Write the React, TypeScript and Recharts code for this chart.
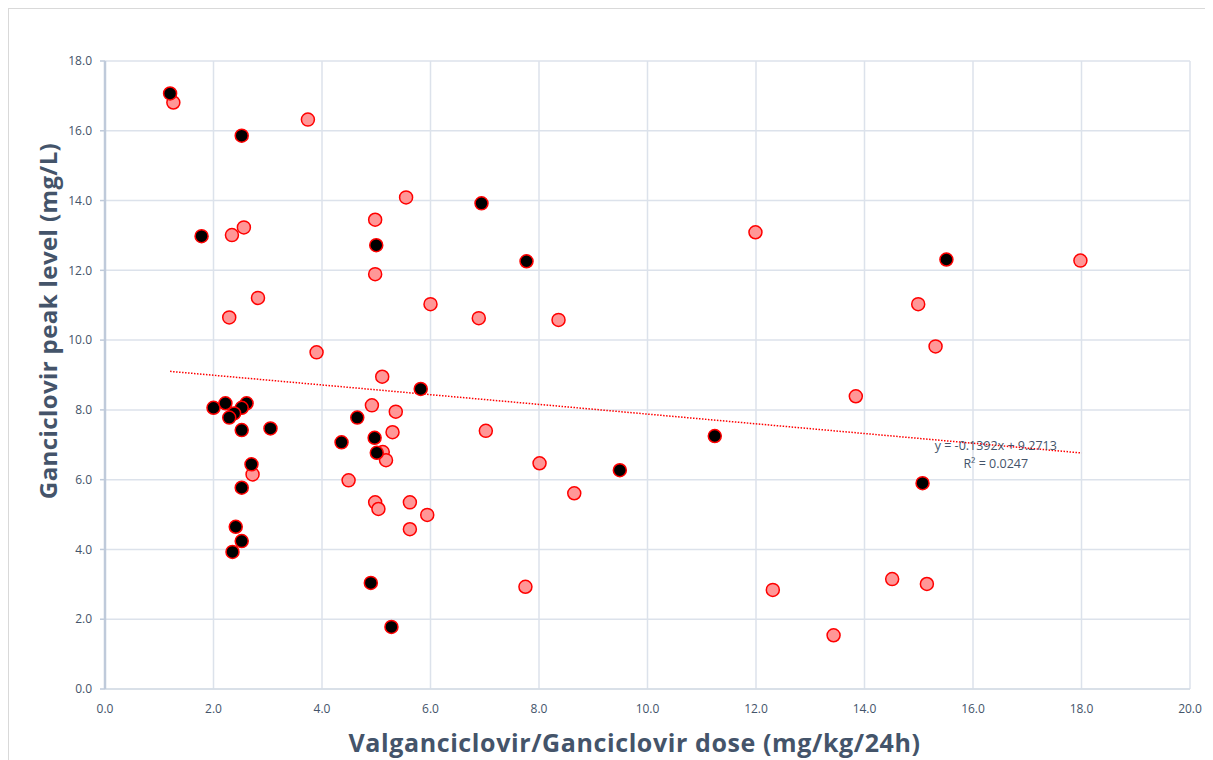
import React from 'react';
import { ScatterChart, Scatter, XAxis, YAxis, CartesianGrid, ReferenceDot } from 'recharts';

// Dose (mg/kg/24h), peak level (mg/L)
const darkPoints: [number, number][] = [
  [1.2, 17.07], [2.52, 15.86], [1.78, 12.98], [6.94, 13.92], [5.0, 12.72], [7.77, 12.26],
  [15.51, 12.31], [5.82, 8.6], [2.0, 8.06], [2.22, 8.19], [2.61, 8.19], [2.52, 8.06],
  [2.38, 7.9], [2.29, 7.78], [2.52, 7.42], [3.05, 7.47], [4.36, 7.07], [2.7, 6.44],
  [2.52, 5.77], [2.41, 4.65], [2.52, 4.24], [2.35, 3.93], [4.65, 7.78], [4.97, 7.2],
  [5.01, 6.77], [4.9, 3.04], [5.28, 1.78], [11.24, 7.25], [9.49, 6.27], [15.07, 5.9],
];

const lightPoints: [number, number][] = [
  [1.26, 16.81], [3.74, 16.32], [2.34, 13.01], [2.56, 13.23], [2.82, 11.21], [2.29, 10.65],
  [3.9, 9.65], [5.55, 14.09], [4.98, 13.45], [4.98, 11.89], [6.0, 11.03], [6.89, 10.63],
  [5.11, 8.95], [2.72, 6.15], [4.49, 5.98], [4.92, 8.13], [5.36, 7.95], [5.3, 7.36],
  [7.02, 7.4], [8.01, 6.47], [5.12, 6.79], [5.18, 6.56], [4.98, 5.35], [5.04, 5.16],
  [5.62, 5.35], [5.94, 4.99], [5.62, 4.58], [7.75, 2.93], [11.99, 13.09], [8.36, 10.58],
  [8.65, 5.61], [12.31, 2.84], [17.98, 12.28], [14.99, 11.03], [15.31, 9.82], [13.84, 8.39],
  [14.51, 3.15], [15.15, 3.01], [13.43, 1.54],
];

const trendSlope = -0.1392;
const trendIntercept = 9.2713;
const trendXRange = [1.2, 18.0];
const trendLabel = ['y = -0.1392x + 9.2713', 'R\u00B2 = 0.0247'];
const trendLabelAt = { x: 16.42, y: 6.99 };

const xTicks = [0, 2, 4, 6, 8, 10, 12, 14, 16, 18, 20];
const yTicks = [0, 2, 4, 6, 8, 10, 12, 14, 16, 18];

const xTitle = 'Valganciclovir/Ganciclovir dose (mg/kg/24h)';
const yTitle = 'Ganciclovir peak level (mg/L)';

const toObjs = (pts: [number, number][]) => pts.map(([x, y]) => ({ x, y }));
const trendData = trendXRange.map((x) => ({ x, y: trendSlope * x + trendIntercept }));

const FONT = '"Open Sans", "Liberation Sans", sans-serif';
const TEXT = '#44546A';

const makeDot = (fill: string) => (props: any) => (
  <circle cx={props.cx} cy={props.cy} r={6.5} fill={fill} stroke="#FF0000" strokeWidth={1.5} />
);

export default function App() {
  return (
    <div
      style={{
        width: 1205,
        height: 752,
        borderTop: '1px solid #D9D9D9',
        borderLeft: '1px solid #D9D9D9',
        background: '#fff',
        fontFamily: FONT,
      }}
    >
      <ScatterChart
        width={1204}
        height={751}
        margin={{ top: 52, right: 23, bottom: 41, left: 0 }}
      >
        <CartesianGrid stroke="#DCE2EB" strokeWidth={1.5} horizontalValues={yTicks} verticalValues={xTicks} />
        <XAxis
          type="number"
          dataKey="x"
          domain={[0, 20]}
          ticks={xTicks}
          allowDataOverflow
          tickFormatter={(v: number) => v.toFixed(1)}
          tick={{ fill: TEXT, fontSize: 12, fontFamily: FONT }}
          tickLine={false}
          tickSize={0}
          tickMargin={15}
          height={30}
          axisLine={{ stroke: '#D5DCE6', strokeWidth: 1.5 }}
          label={{
            content: (p: any) => {
              const vb = p.viewBox;
              return (
                <text
                  x={vb.x + vb.width / 2 - 13}
                  y={vb.y + 53}
                  textAnchor="middle"
                  dominantBaseline="central"
                  fill={TEXT}
                  fontSize={25}
                  letterSpacing={0.6}
                  fontWeight="bold"
                  fontFamily={FONT}
                >
                  {xTitle}
                </text>
              );
            },
          }}
        />
        <YAxis
          type="number"
          dataKey="y"
          domain={[0, 18]}
          ticks={yTicks}
          allowDataOverflow
          tickFormatter={(v: number) => v.toFixed(1)}
          tick={{ fill: TEXT, fontSize: 12, fontFamily: FONT }}
          tickLine={{ stroke: '#BFCADA', strokeWidth: 1.5 }}
          tickSize={5}
          tickMargin={8}
          width={96}
          axisLine={{ stroke: '#BFCADA', strokeWidth: 2.5 }}
          label={{
            content: (p: any) => {
              const vb = p.viewBox;
              const cx = vb.x + 38;
              const cy = vb.y + 260;
              return (
                <text
                  x={cx}
                  y={cy}
                  transform={`rotate(-90, ${cx}, ${cy})`}
                  textAnchor="middle"
                  dominantBaseline="central"
                  fill={TEXT}
                  fontSize={24}
                  letterSpacing={0.4}
                  fontWeight="bold"
                  fontFamily={FONT}
                >
                  {yTitle}
                </text>
              );
            },
          }}
        />
        <Scatter
          data={trendData}
          isAnimationActive={false}
          line={{ stroke: '#FF0000', strokeWidth: 1.5, strokeDasharray: '1.5 1.5' }}
          shape={() => null}
        />
        <Scatter data={toObjs(lightPoints)} isAnimationActive={false} shape={makeDot('#FF9797')} />
        <Scatter data={toObjs(darkPoints)} isAnimationActive={false} shape={makeDot('#000000')} />
        <ReferenceDot
          x={trendLabelAt.x}
          y={trendLabelAt.y}
          r={0}
          fill="none"
          stroke="none"
          label={{
            content: (p: any) => {
              const vb = p.viewBox;
              return (
                <g>
                  <text x={vb.x} y={vb.y} textAnchor="middle" dominantBaseline="central" fill={TEXT} fontSize={12.5} fontFamily={FONT}>
                    {trendLabel[0]}
                  </text>
                  <text x={vb.x} y={vb.y + 18} textAnchor="middle" dominantBaseline="central" fill={TEXT} fontSize={12.5} fontFamily={FONT}>
                    {trendLabel[1]}
                  </text>
                </g>
              );
            },
          }}
        />
      </ScatterChart>
    </div>
  );
}
